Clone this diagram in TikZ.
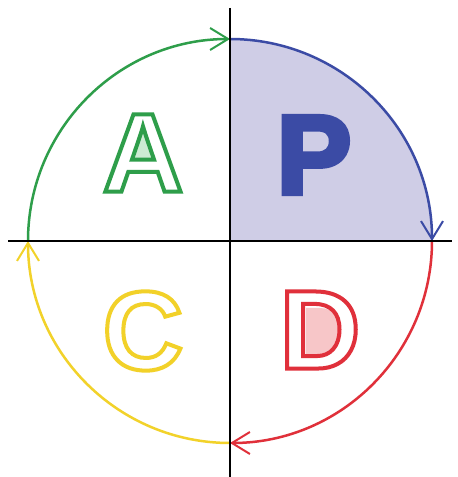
\documentclass[tikz,border=0pt]{standalone}
\usepackage{fontspec}
\setmainfont{Liberation Sans}
\usetikzlibrary{arrows.meta}
\definecolor{pgreen}{HTML}{2E9E4A}
\definecolor{pblue}{HTML}{3B4BA5}
\definecolor{pred}{HTML}{E0303A}
\definecolor{pyellow}{HTML}{F2D22A}
\definecolor{plav}{HTML}{CFCDE6}
\definecolor{ppink}{HTML}{F7C6C8}
\definecolor{plgreen}{HTML}{CDEBD3}
% outlined text: white fill, coloured stroke
\newcommand{\outl}[3]{{\color{white}\special{pdf:literal direct 2 Tr #2 w #1 RG}#3\special{pdf:literal direct 0 Tr 1 w}}}
\newcommand{\heavy}[2]{{\color{#1}\special{pdf:literal direct 2 Tr #2 w}P\special{pdf:literal direct 0 Tr 1 w}}}
\begin{document}
\begin{tikzpicture}[x=1pt,y=1pt,
  axis/.style={line width=2.4pt,black},
  cyc/.style={line width=2.5pt},
  tip/.style={-{Straight Barb[length=18pt,width=22pt,line width=2pt]}},
  letter/.style={font=\fontsize{112}{112}\selectfont\bfseries,inner sep=0pt,anchor=center}]
\useasboundingbox (0,0) rectangle (458,477);
\fill[white] (0,0) rectangle (458,477);
\coordinate (O) at (230,236);
\coordinate (T) at (230,438);
\coordinate (R) at (432,236);
\coordinate (B) at (230,34);
\coordinate (L) at (28,236);
\coordinate (AT) at (230,469);
\coordinate (AB) at (230,0);
\coordinate (AL) at (8,236);
\coordinate (AR) at (452,236);
% shaded quadrant
\fill[plav] (O) -- (T) arc[start angle=90,end angle=0,radius=202] -- cycle;
% cycle arcs
\draw[cyc,pgreen,tip] (L) arc[start angle=180,end angle=90,radius=202];
\draw[cyc,pblue,tip] (T) arc[start angle=90,end angle=0,radius=202];
\draw[cyc,pred,tip] (R) arc[start angle=0,end angle=-90,radius=202];
\draw[cyc,pyellow,tip] (B) arc[start angle=270,end angle=180,radius=202];
% axes
\draw[axis] (AT) -- (AB);
\draw[axis] (AL) -- (AR);
% counters
\fill[ppink] (306,169) -- (320,169) arc[start angle=90,end angle=-90,radius=23.5] -- (306,122) -- cycle;
\fill[plgreen] (133,319) -- (152,319) -- (143,348) -- cycle;
% letters
\node[letter] (A) at (143,324) {\outl{0.18 0.62 0.29}{4}{A}};
\node[letter] (P) at (314,322) {\heavy{pblue}{5}};
\node[letter] (C) at (143,146) {\outl{0.95 0.82 0.16}{4}{C}};
\node[letter] (D) at (320,147) {\outl{0.88 0.19 0.23}{4}{D}};
\end{tikzpicture}
\end{document}
